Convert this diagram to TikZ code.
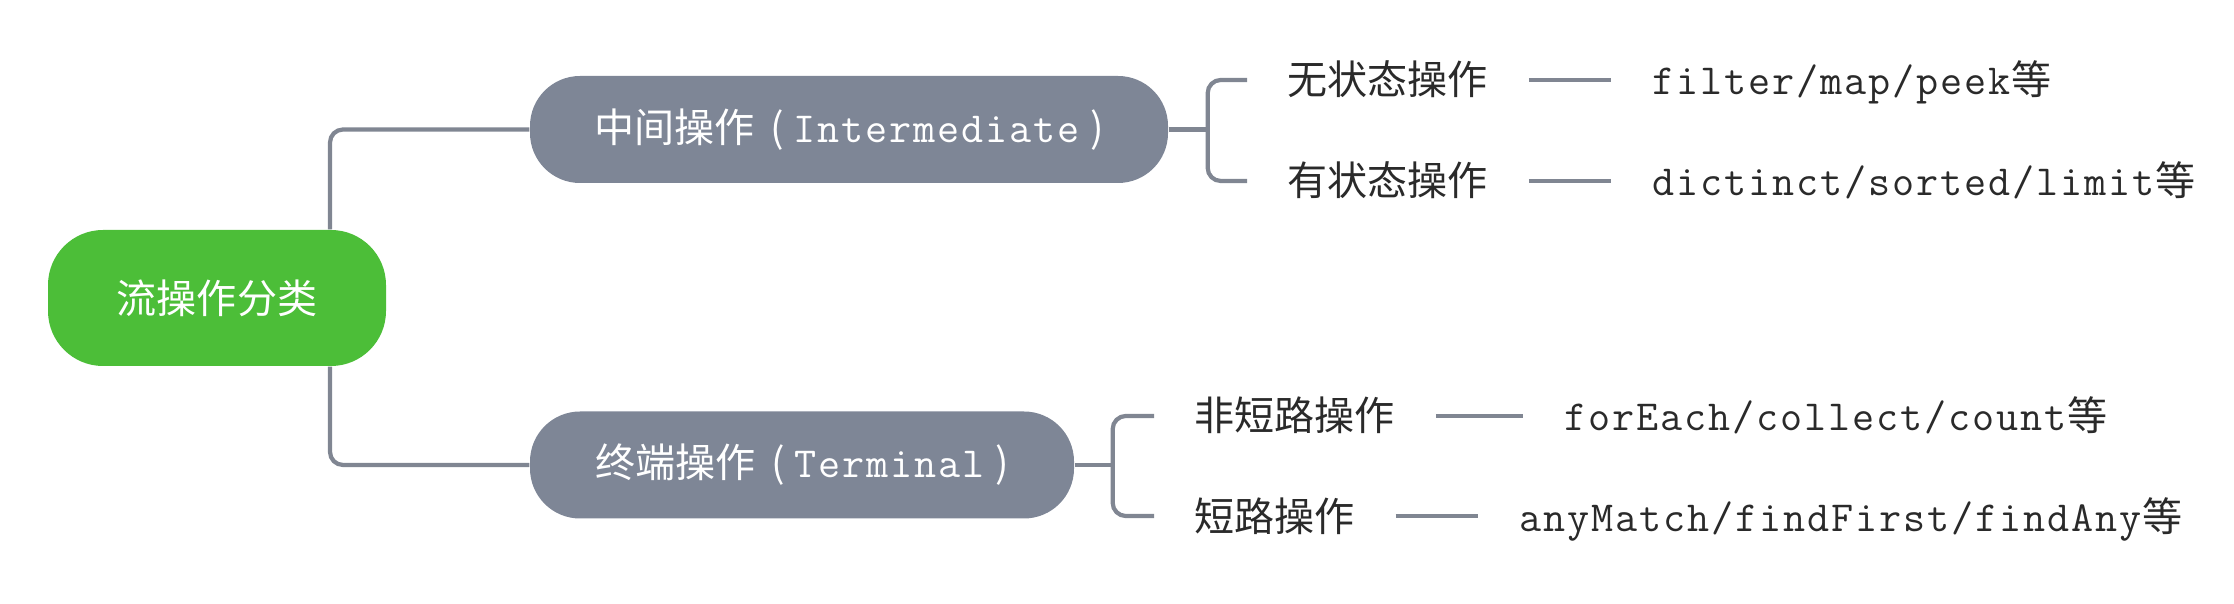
\documentclass[tikz,border=0pt]{standalone}
\usepackage{fontspec}
\setmainfont{Noto Sans CJK SC}
\usetikzlibrary{arrows, positioning}

\definecolor{rootgreen}{HTML}{4CBE38}
\definecolor{nodegray}{HTML}{7E8696}
\definecolor{linegray}{HTML}{808692}
\definecolor{leafgray}{HTML}{2A2A2A}

% typewriter text, one fixed cell per letter (Courier widths)
\def\codeloop#1{\ifx#1\relax\else\makebox[0.24cm]{#1}\expandafter\codeloop\fi}
\newcommand{\code}[1]{{\ttfamily\fontsize{12.2}{14}\selectfont\addfontfeatures{FakeBold=1}\codeloop#1\relax}}

\begin{document}
\begin{tikzpicture}
	\tikzstyle{Root} = [rectangle, rounded corners=0.55cm, minimum width=3.38cm, minimum height=1.36cm, text centered, fill=rootgreen, text=white, font=\fontsize{11.4}{13}\selectfont]
	\tikzstyle{Node} = [rectangle, rounded corners=0.5cm, minimum height=1.07cm, text centered, fill=nodegray, text=white, font=\fontsize{11.4}{13}\selectfont]
	\tikzstyle{Leaf} = [inner xsep=0.4cm, inner ysep=0pt, text height=0.35cm, text depth=0.05cm, text=leafgray, font=\fontsize{11.4}{13}\selectfont]
	\tikzstyle{link} = [line width=1.2pt, draw=linegray, rounded corners=0.13cm]

	\useasboundingbox (0,0) rectangle (22.34,-6.04);

	\node (root) [Root] at (2.17,-2.98) {流操作分类};
	\node (inter) [Node, minimum width=6.38cm] at (8.49,-1.295) {中间操作\hspace{0.16cm}(\hspace{0.08cm}\code{Intermediate}\hspace{0.1cm})\hspace{0.2cm}};
	\node (term) [Node, minimum width=5.44cm] at (8.02,-4.65) {终端操作\hspace{0.16cm}(\hspace{0.08cm}\code{Terminal}\hspace{0.1cm})\hspace{0.2cm}};

	\node (a1) [Leaf, anchor=west] at (12.47,-0.80) {无状态操作};
	\node (b1) [Leaf, right=0.82cm of a1] {\code{filter/map/peek}等};
	\node (a2) [Leaf, anchor=west] at (12.47,-1.81) {有状态操作};
	\node (b2) [Leaf, right=0.82cm of a2] {\code{dictinct/sorted/limit}等};

	\node (c1) [Leaf, anchor=west] at (11.54,-4.16) {非短路操作};
	\node (d1) [Leaf, right=0.87cm of c1] {\code{forEach/collect/count}等};
	\node (c2) [Leaf, anchor=west] at (11.54,-5.16) {短路操作};
	\node (d2) [Leaf, right=0.82cm of c2] {\code{anyMatch/findFirst/findAny}等};

	\draw [link] ([xshift=1.13cm]root.north) |- (inter.west);
	\draw [link] ([xshift=1.13cm]root.south) |- (term.west);

	\draw [link] (inter.east) -- ++(0.39,0) coordinate (ka);
	\draw [link] (a1.west) -| (ka) |- (a2.west);
	\draw [link] (term.east) -- ++(0.38,0) coordinate (kb);
	\draw [link] (c1.west) -| (kb) |- (c2.west);

	\draw [link] (a1.east) -- (b1.west);
	\draw [link] (a2.east) -- (b2.west);
	\draw [link] (c1.east) -- (d1.west);
	\draw [link] (c2.east) -- (d2.west);
\end{tikzpicture}
\end{document}
